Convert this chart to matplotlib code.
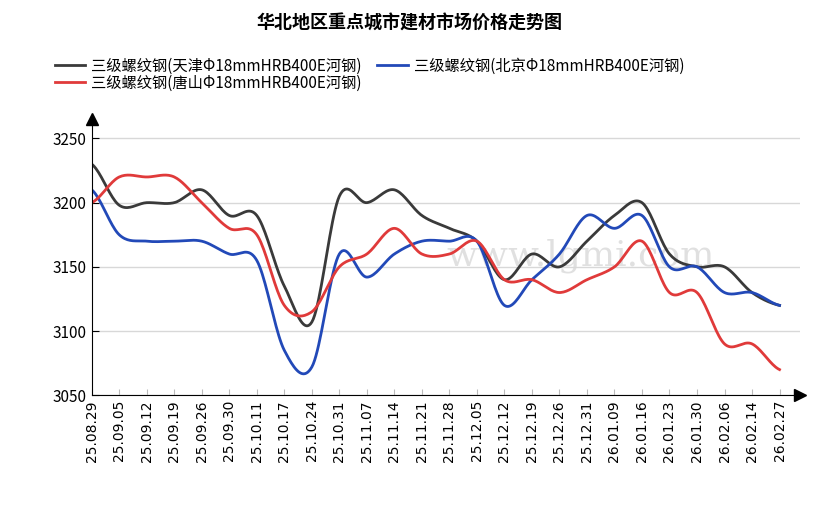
import numpy as np
import matplotlib.pyplot as plt

plt.rcParams['font.family'] = ['Noto Sans CJK SC', 'DejaVu Sans']

dates = ["25.08.29", "25.09.05", "25.09.12", "25.09.19", "25.09.26", "25.09.30", "25.10.11",
         "25.10.17", "25.10.24", "25.10.31", "25.11.07", "25.11.14", "25.11.21", "25.11.28",
         "25.12.05", "25.12.12", "25.12.19", "25.12.26", "25.12.31", "26.01.09", "26.01.16",
         "26.01.23", "26.01.30", "26.02.06", "26.02.14", "26.02.27"]
tianjin = [3230, 3198, 3200, 3200, 3210, 3190, 3190, 3135, 3107, 3205, 3200, 3210, 3190, 3180,
           3170, 3140, 3160, 3150, 3170, 3190, 3200, 3160, 3150, 3150, 3130, 3120]
beijing = [3210, 3175, 3170, 3170, 3170, 3160, 3155, 3085, 3072, 3160, 3142, 3160, 3170, 3170,
           3170, 3120, 3140, 3160, 3190, 3180, 3190, 3150, 3150, 3130, 3130, 3120]
tangshan = [3200, 3220, 3220, 3220, 3200, 3180, 3175, 3120, 3115, 3150, 3160, 3180, 3160, 3160,
            3170, 3140, 3140, 3130, 3140, 3150, 3170, 3130, 3130, 3090, 3090, 3070]


def smooth(y, n=20):
    # catmull-rom curve through the points, only for drawing
    y = np.asarray(y, float)
    p = np.concatenate([[y[0]], y, [y[-1]]])
    xs, ys = [], []
    for i in range(len(y) - 1):
        t = np.linspace(0, 1, n, endpoint=False)
        p0, p1, p2, p3 = p[i], p[i + 1], p[i + 2], p[i + 3]
        v = 0.5 * (2 * p1 + (-p0 + p2) * t + (2 * p0 - 5 * p1 + 4 * p2 - p3) * t ** 2
                   + (-p0 + 3 * p1 - 3 * p2 + p3) * t ** 3)
        xs.append(i + t)
        ys.append(v)
    xs.append([len(y) - 1])
    ys.append([y[-1]])
    return np.concatenate(xs), np.concatenate(ys)


fig = plt.figure(figsize=(8.19, 5.16), dpi=100)
ax = fig.add_axes([0.112, 0.234, 0.865, 0.535])

series = [(tianjin, "#3a3a3a", "三级螺纹钢(天津Φ18mmHRB400E河钢)"),
          (beijing, "#2249b8", "三级螺纹钢(北京Φ18mmHRB400E河钢)"),
          (tangshan, "#e03a3a", "三级螺纹钢(唐山Φ18mmHRB400E河钢)")]
for vals, c, lab in series:
    sx, sy = smooth(vals)
    ax.plot(sx, sy, color=c, lw=2, label=lab)

ax.set_xlim(0, 25.75)
ax.set_ylim(3050, 3265)
ax.set_yticks([3050, 3100, 3150, 3200, 3250])
ax.set_xticks(range(len(dates)))
ax.set_xticklabels(dates, rotation=90, fontsize=10, family='DejaVu Sans')
ax.tick_params(axis='y', labelsize=11, direction='in', length=5)
ax.tick_params(axis='x', direction='in', length=4, color='#bbbbbb')
ax.grid(axis='y', color='#d8d8d8', lw=1)
ax.spines['top'].set_visible(False)
ax.spines['right'].set_visible(False)
ax.spines['left'].set_color('black')
ax.spines['bottom'].set_color('black')
ax.plot(1, 0, ">k", ms=9, transform=ax.transAxes, clip_on=False)
ax.plot(0, 1, "^k", ms=9, transform=ax.transAxes, clip_on=False)

ax.text(0.5, 0.47, "www.lgmi.com", transform=ax.transAxes, fontsize=26, color='#cccccc',
        alpha=0.6, family='DejaVu Serif', zorder=0)

fig.text(0.5, 0.955, "华北地区重点城市建材市场价格走势图", ha='center', va='center',
         fontsize=13, fontweight='bold')
handles, labels = ax.get_legend_handles_labels()
fig.legend([handles[0], handles[2], handles[1]], [labels[0], labels[2], labels[1]],
           loc='upper left', bbox_to_anchor=(0.05, 0.915), ncol=2, frameon=False,
           fontsize=11, handlelength=2, columnspacing=1.0, labelspacing=0.0,
           handletextpad=0.4)

fig.savefig("out.png", dpi=100)
